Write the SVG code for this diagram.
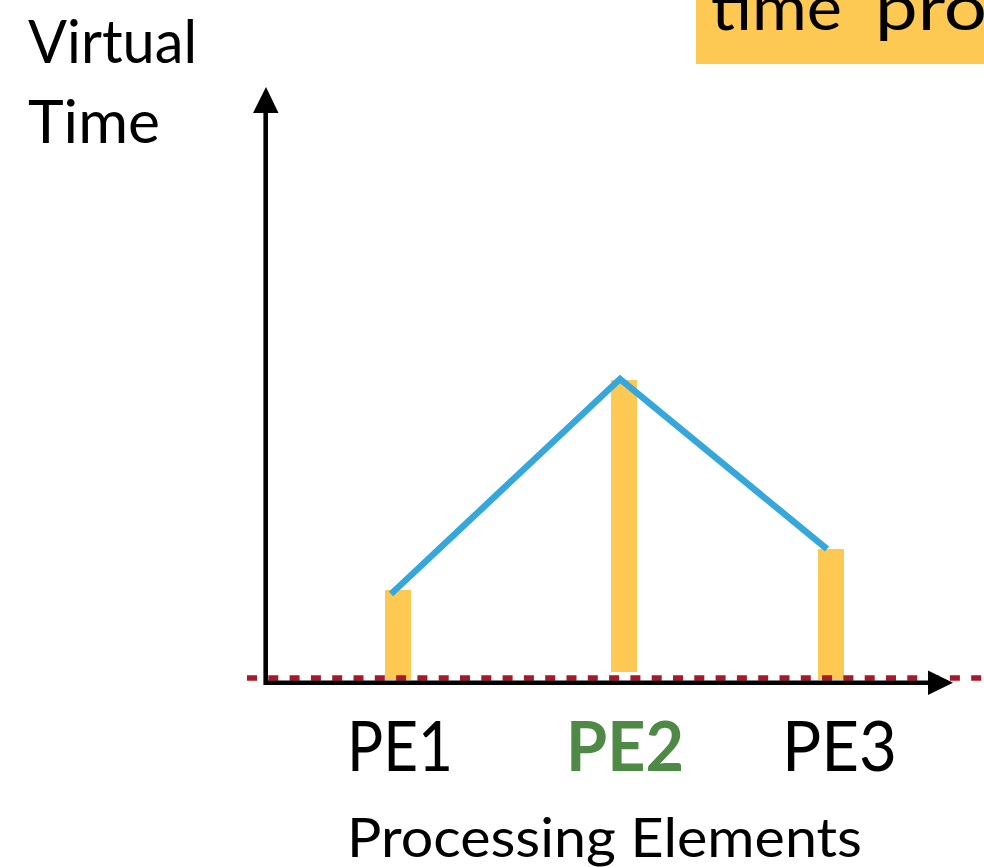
<svg xmlns="http://www.w3.org/2000/svg" width="984" height="867" viewBox="0 0 984 867">
  <style>
    .lbl { font-family: Lato, "Liberation Sans", Arial, sans-serif; fill: #000000; }
    .bar { fill: #FDC953; }
    .axis { stroke: #000000; stroke-width: 4.6; fill: none; }
    .head { fill: #000000; }
  </style>

  <rect width="984" height="867" fill="#ffffff"/>

  <!-- title banner, running off the right edge -->
  <g id="banner">
    <rect x="696" y="0" width="300" height="64" fill="#FDC953"/>
    <text class="lbl" x="711" y="30" font-size="62" textLength="131" lengthAdjust="spacingAndGlyphs">time</text>
    <text class="lbl" x="875" y="30" font-size="62" textLength="112" lengthAdjust="spacingAndGlyphs">pro</text>
  </g>

  <!-- axis titles -->
  <g id="y-title">
    <text class="lbl" x="28" y="63" font-size="60" textLength="169" lengthAdjust="spacingAndGlyphs">Virtual</text>
    <text class="lbl" x="28" y="143" font-size="60" textLength="132" lengthAdjust="spacingAndGlyphs">Time</text>
  </g>

  <!-- per-PE virtual time bars -->
  <g id="pe1-bar"><rect class="bar" x="385" y="590" width="26" height="90"/></g>
  <g id="pe2-bar"><rect class="bar" x="611" y="380" width="26" height="292"/></g>
  <g id="pe3-bar"><rect class="bar" x="818" y="549" width="26" height="131"/></g>

  <g id="connectors">
    <!-- time profile across PEs -->
    <polyline points="391,594 620,379 827,549" fill="none" stroke="#35A7DB" stroke-width="6.5" stroke-linejoin="miter"/>
    <!-- baseline marker -->
    <line x1="247" y1="678" x2="984" y2="678" stroke="#A8182A" stroke-width="5.5" stroke-dasharray="10 11.3"/>
    <!-- axes -->
    <polyline class="axis" points="265.7,110 265.7,682.7 930,682.7"/>
    <polygon class="head" points="266,87 253,113 278.5,113"/>
    <polygon class="head" points="953,682.7 928,670.5 928,695"/>
  </g>

  <!-- PE labels -->
  <g id="pe1-label">
    <text class="lbl" x="347" y="770.5" font-size="69" textLength="106" lengthAdjust="spacingAndGlyphs">PE1</text>
  </g>
  <g id="pe2-label">
    <text class="lbl" x="566" y="770.5" font-size="69" font-weight="bold" style="fill:#4E8A45" textLength="118" lengthAdjust="spacingAndGlyphs">PE2</text>
  </g>
  <g id="pe3-label">
    <text class="lbl" x="782" y="770.5" font-size="69" textLength="115" lengthAdjust="spacingAndGlyphs">PE3</text>
  </g>

  <g id="x-title">
    <text class="lbl" x="347" y="856.7" font-size="55" textLength="515" lengthAdjust="spacingAndGlyphs">Processing Elements</text>
  </g>
</svg>
